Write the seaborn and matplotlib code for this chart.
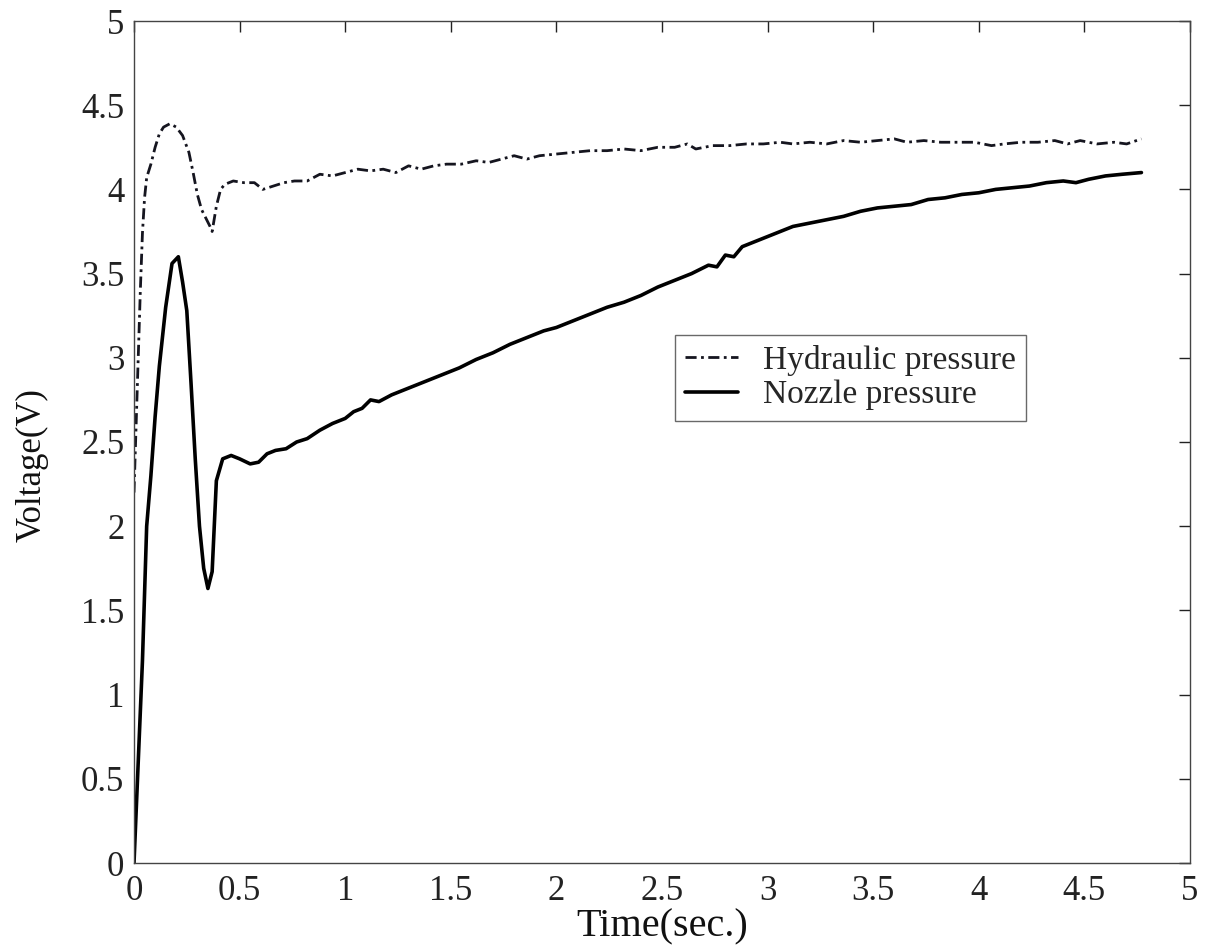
import numpy as np
import pandas as pd
import matplotlib
matplotlib.use("Agg")
import matplotlib.pyplot as plt
import seaborn as sns
from matplotlib.lines import Line2D

hyd_t = [0.00, 0.01, 0.02, 0.03, 0.04, 0.05, 0.06, 0.08, 0.10, 0.12, 0.14, 0.17, 0.20, 0.23,
         0.26, 0.28, 0.30, 0.32, 0.34, 0.36, 0.37, 0.39, 0.41, 0.43, 0.47, 0.52, 0.57, 0.61,
         0.66, 0.71, 0.76, 0.82, 0.88, 0.94, 1.00, 1.06, 1.12, 1.18, 1.24, 1.30, 1.36, 1.42,
         1.48, 1.55, 1.62, 1.68, 1.74, 1.80, 1.86, 1.92, 2.00, 2.08, 2.16, 2.24, 2.32, 2.40,
         2.48, 2.56, 2.62, 2.66, 2.74, 2.82, 2.90, 2.98, 3.06, 3.12, 3.20, 3.28, 3.36, 3.44,
         3.52, 3.60, 3.66, 3.74, 3.82, 3.90, 3.98, 4.06, 4.12, 4.20, 4.28, 4.36, 4.42, 4.48,
         4.56, 4.64, 4.70, 4.77]
hyd_v = [2.20, 2.60, 3.00, 3.40, 3.74, 3.95, 4.07, 4.15, 4.25, 4.33, 4.37, 4.39, 4.37, 4.32,
         4.22, 4.10, 3.97, 3.88, 3.83, 3.78, 3.75, 3.90, 4.00, 4.03, 4.05, 4.04, 4.04, 4.00,
         4.02, 4.04, 4.05, 4.05, 4.09, 4.08, 4.10, 4.12, 4.11, 4.12, 4.10, 4.14, 4.12, 4.14,
         4.15, 4.15, 4.17, 4.16, 4.18, 4.20, 4.18, 4.20, 4.21, 4.22, 4.23, 4.23, 4.24, 4.23,
         4.25, 4.25, 4.27, 4.24, 4.26, 4.26, 4.27, 4.27, 4.28, 4.27, 4.28, 4.27, 4.29, 4.28,
         4.29, 4.30, 4.28, 4.29, 4.28, 4.28, 4.28, 4.26, 4.27, 4.28, 4.28, 4.29, 4.27, 4.29,
         4.27, 4.28, 4.27, 4.30]

noz_t = [0.00, 0.02, 0.04, 0.06, 0.08, 0.10, 0.12, 0.15, 0.18, 0.21, 0.23, 0.25, 0.27, 0.29,
         0.31, 0.33, 0.35, 0.37, 0.39, 0.42, 0.46, 0.50, 0.55, 0.59, 0.63, 0.67, 0.72, 0.77,
         0.82, 0.88, 0.94, 1.00, 1.04, 1.08, 1.12, 1.16, 1.22, 1.30, 1.38, 1.46, 1.54, 1.62,
         1.70, 1.78, 1.86, 1.94, 2.00, 2.08, 2.16, 2.24, 2.32, 2.40, 2.48, 2.56, 2.64, 2.72,
         2.76, 2.80, 2.84, 2.88, 2.92, 2.96, 3.00, 3.06, 3.12, 3.20, 3.28, 3.36, 3.44, 3.52,
         3.60, 3.68, 3.76, 3.84, 3.92, 4.00, 4.08, 4.16, 4.24, 4.32, 4.40, 4.46, 4.52, 4.60,
         4.68, 4.77]
noz_v = [0.00, 0.60, 1.20, 2.00, 2.30, 2.65, 2.95, 3.30, 3.56, 3.60, 3.45, 3.28, 2.85, 2.40,
         2.00, 1.75, 1.63, 1.73, 2.27, 2.40, 2.42, 2.40, 2.37, 2.38, 2.43, 2.45, 2.46, 2.50,
         2.52, 2.57, 2.61, 2.64, 2.68, 2.70, 2.75, 2.74, 2.78, 2.82, 2.86, 2.90, 2.94, 2.99,
         3.03, 3.08, 3.12, 3.16, 3.18, 3.22, 3.26, 3.30, 3.33, 3.37, 3.42, 3.46, 3.50, 3.55,
         3.54, 3.61, 3.60, 3.66, 3.68, 3.70, 3.72, 3.75, 3.78, 3.80, 3.82, 3.84, 3.87, 3.89,
         3.90, 3.91, 3.94, 3.95, 3.97, 3.98, 4.00, 4.01, 4.02, 4.04, 4.05, 4.04, 4.06, 4.08,
         4.09, 4.10]

series_names = ["Hydraulic pressure", "Nozzle pressure"]
x_ticks = [0, 0.5, 1, 1.5, 2, 2.5, 3, 3.5, 4, 4.5, 5]
x_tick_labels = ["0", "0.5", "1", "1.5", "2", "2.5", "3", "3.5", "4", "4.5", "5"]
y_ticks = [0, 0.5, 1, 1.5, 2, 2.5, 3, 3.5, 4, 4.5, 5]
y_tick_labels = ["0", "0.5", "1", "1.5", "2", "2.5", "3", "3.5", "4", "4.5", "5"]
x_label = "Time(sec.)"
y_label = "Voltage(V)"

df = pd.concat([
    pd.DataFrame({"t": hyd_t, "v": hyd_v, "series": series_names[0]}),
    pd.DataFrame({"t": noz_t, "v": noz_v, "series": series_names[1]}),
], ignore_index=True)

sns.set_style("white")
plt.rcParams["font.family"] = ["Liberation Serif", "DejaVu Serif"]

L, R, T, B = 134, 1190, 21, 863
fig = plt.figure(figsize=(12.15, 9.52), dpi=100)
ax = fig.add_axes([L / 1215, 1 - B / 952, (R - L) / 1215, (B - T) / 952])

hyd_dash = (4, 1.6, 1, 1.6)
sns.lineplot(data=df, x="t", y="v", hue="series", style="series",
             palette={series_names[0]: "#15151f", series_names[1]: "#000000"},
             dashes={series_names[0]: hyd_dash, series_names[1]: ""},
             size="series", sizes={series_names[0]: 2.0, series_names[1]: 2.6},
             ax=ax, legend=False, sort=False, estimator=None)

ax.set_xlim(0, 5)
ax.set_ylim(0, 5)
ax.set_xticks(x_ticks)
ax.set_xticklabels(x_tick_labels)
ax.set_yticks(y_ticks)
ax.set_yticklabels(y_tick_labels)
ax.tick_params(direction="in", length=8, width=1, top=True, right=True,
               labelsize=25, pad=7, colors="#222222")
ax.tick_params(axis="x", pad=9)
for s in ax.spines.values():
    s.set_visible(True)
    s.set_linewidth(1.0)
    s.set_color("#444444")

ax.set_xlabel(x_label, fontsize=29, labelpad=0, color="#111111")
ax.set_ylabel(y_label, fontsize=25, color="#111111")
ax.yaxis.label.set_verticalalignment("center")
ax.yaxis.set_label_coords((32 - L) / (R - L), 1 - (465 - T) / (B - T))

handles = [Line2D([], [], color="#15151f", lw=2.0, dashes=hyd_dash),
           Line2D([], [], color="#000000", lw=2.6)]
leg = ax.legend(handles, series_names, loc="upper left",
                bbox_to_anchor=((675 - L) / (R - L), 1 - (335 - T) / (B - T)),
                fontsize=24, frameon=True, fancybox=False, handlelength=1.6,
                handletextpad=0.75, borderpad=0.3, labelspacing=0.12,
                borderaxespad=0)
leg.get_frame().set_edgecolor("#444444")
leg.get_frame().set_linewidth(1.0)

fig.savefig("out.png", dpi=100, facecolor="white")
